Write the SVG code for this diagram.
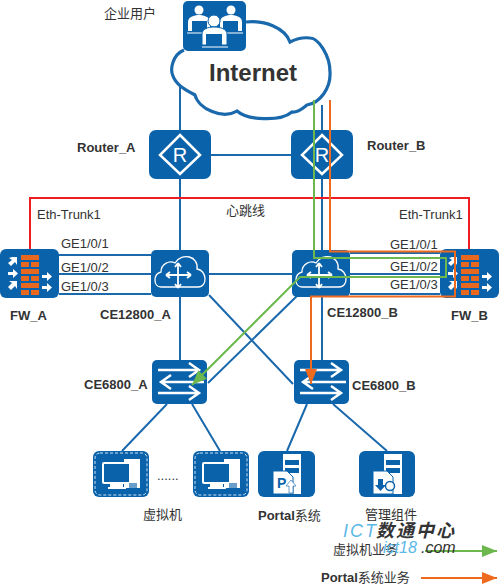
<svg xmlns="http://www.w3.org/2000/svg" width="500" height="587" viewBox="0 0 500 587">
<style>
text{font-family:"Liberation Sans","Noto Sans CJK SC",sans-serif;font-size:13px;fill:#333}
.b{font-weight:bold}
.box{fill:#0a62ab}
.link{fill:none;stroke:#1a69ad;stroke-width:2}
.w{fill:none;stroke:#fff;stroke-width:2.500}
.w2{fill:none;stroke:#fff;stroke-width:1.800}
.wt{fill:none;stroke:#fff;stroke-width:1.300}
.wf{fill:#fff}
.o{fill:#e8681f}
</style>
<defs>
<marker id="ag" markerUnits="userSpaceOnUse" markerWidth="16" markerHeight="12" refX="15" refY="6" orient="auto"><path d="M0,0L15,6L0,12Z" fill="#6cb84e"/></marker>
<marker id="ao" markerUnits="userSpaceOnUse" markerWidth="16" markerHeight="12" refX="15" refY="6" orient="auto"><path d="M0,0L15,6L0,12Z" fill="#ee6a1f"/></marker>
<g id="sw"><rect width="55" height="44" rx="5" class="box"/><path class="w" d="M6,10H47M37,3L47,10L37,17M52,22H9M19,15L9,22L19,29M6,33H47M37,26L47,33L37,40"/></g>
<g id="rt"><rect width="62" height="49" rx="7" class="box"/><path class="w" d="M31,5L51,25L31,44L11,25Z"/><text x="31" y="32" text-anchor="middle" style="font-size:20px;fill:#fff">R</text></g>
<g id="ce"><rect width="58" height="47" rx="5" class="box"/><path class="wt" d="M10,37C2,37 2,24 10,22C10,14 18,10 24,13C31,2 48,6 46,19C56,20 57,37 47,37Z"/><path class="w2" d="M15,25H40M27,13V38M15,25l4,-3M15,25l4,3M40,25l-4,-3M40,25l-4,3M27,13l-3,4M27,13l3,4M27,38l-3,-4M27,38l3,-4"/></g>
<g id="fw"><rect width="59" height="49" rx="6" class="box"/>
<g class="o"><rect x="21" y="6" width="18" height="5"/><rect x="21" y="13" width="8" height="5"/><rect x="31" y="13" width="8" height="5"/><rect x="21" y="20" width="18" height="5"/><rect x="21" y="27" width="8" height="5"/><rect x="31" y="27" width="8" height="5"/><rect x="21" y="34" width="18" height="5"/><rect x="21" y="41" width="8" height="5"/><rect x="31" y="41" width="8" height="5"/></g>
<g class="wf"><path d="M9,9L12,8L17,8V16L15,13L11,17L8,14L12,11Z"/><path d="M8,23H13V20L18,24.500L13,29V26H8Z"/><path d="M8,38L12,34L9,32H17V40L15,37L11,41Z"/><path d="M42,26H47V23L52,27.500L47,32V29H42Z"/><path d="M42,37H47V34L52,38.500L47,43V40H42Z"/></g></g>
<g id="vm"><rect width="56" height="46" rx="6" class="box"/><rect x="2" y="2" width="52" height="42" rx="5" fill="none" stroke="#cfe2f2" stroke-dasharray="3 2"/>
<rect x="31" y="8" width="16" height="29" fill="#fff"/><rect x="9" y="11" width="29" height="22" rx="2" fill="#fff"/><rect x="11" y="13" width="25" height="18" class="box"/><rect x="17" y="33" width="13" height="3" fill="#fff"/><rect x="15" y="36" width="18" height="2" fill="#fff"/><rect x="36" y="32" width="8" height="5" fill="#6a9fcc"/></g>
</defs>

<g id="connectors">
<path class="link" d="M180,85V360M322,105V360M211,155H291M59,255H151M59,274H151M59,294H151M209,274H292M350,253H440M350,274H440M350,294H440M209,295L293,384M300,293L208,383M167,404L122,451M192,404L220,451M307,404L287,451M333,404L387,451"/>
<path d="M30,249V198H469V249" fill="none" stroke="#f01c24" stroke-width="2"/>
</g>

<g id="node-internet"><path d="M184,50C172,55 170,70 173,76C176,85 186,90 195,95C198,108 222,120 237,111C247,120 280,122 292,112C298,113 303,108 307,105C320,103 331,88 330,72C330,55 318,38 310,38C303,37 296,39 290,42C285,28 265,20 246,22" fill="#fff" stroke="#1a69ad" stroke-width="3.200"/><text x="209" y="81" class="b" style="font-size:24px">Internet</text></g>
<g id="node-users"><rect x="183" y="1" width="63" height="50" rx="5" class="box"/>
<g class="wf"><circle cx="199" cy="10" r="4.500"/><path d="M188,31V22C188,17 194,15 199,15C204,15 210,17 210,22V31Z"/><circle cx="231" cy="10" r="4.500"/><path d="M220,31V22C220,17 226,15 231,15C236,15 242,17 242,22V31Z"/></g>
<path d="M187,33H211M219,33H243" stroke="#fff"/>
<rect x="192" y="21" width="15" height="10" class="box"/><rect x="223" y="21" width="15" height="10" class="box"/>
<circle cx="214" cy="21" r="6" fill="#fff" stroke="#0a62ab"/><path d="M202,45V34C202,29 208,27 214,27C220,27 227,29 227,34V45Z" fill="#fff" stroke="#0a62ab"/><rect x="206" y="34" width="16" height="11" fill="#0a62ab"/><path d="M202,47H228" stroke="#fff"/></g>

<use id="node-router-a" href="#rt" x="149" y="130"/>
<use id="node-router-b" href="#rt" x="291" y="130"/>
<use id="node-fw-a" href="#fw" x="0" y="249"/>
<use id="node-ce12800-a" href="#ce" x="151" y="250"/>
<use id="node-ce12800-b" href="#ce" x="292" y="250"/>
<use id="node-fw-b" href="#fw" x="440" y="249"/>
<use id="node-ce6800-a" href="#sw" x="152" y="360"/>
<use id="node-ce6800-b" href="#sw" x="294" y="360"/>
<use id="node-vm1" href="#vm" x="93" y="451"/>
<use id="node-vm2" href="#vm" x="193" y="451"/>

<g id="node-portal"><rect x="258" y="451" width="57" height="46" rx="6" class="box"/><rect x="283" y="454" width="18" height="40" fill="#fff"/><rect x="285" y="460" width="14" height="5" class="box"/><rect x="285" y="468" width="14" height="5" class="box"/><path d="M273,471H287L293,477V494H273Z" fill="#fff" stroke="#0a62ab"/><text x="277" y="488" class="b" style="font-size:14px;fill:#0a62ab">P</text><path d="M291,480L296,486H293V493H289V486H286Z" fill="#fff" stroke="#0a62ab" stroke-width=".6"/></g>
<g id="node-mgmt"><rect x="359" y="451" width="56" height="46" rx="6" class="box"/><rect x="384" y="454" width="18" height="40" fill="#fff"/><rect x="386" y="460" width="14" height="5" class="box"/><rect x="386" y="468" width="14" height="5" class="box"/><path d="M373,471H387L393,477V494H373Z" fill="#fff" stroke="#0a62ab"/><path d="M378,479H383V485H386L380.500,491L375,485H378Z" class="box"/><circle cx="390" cy="486" r="4.500" fill="#fff" stroke="#0a62ab" stroke-width="1.500"/></g>

<g id="flows" fill="none">
<path d="M330,100V251.500H455V296.500H311V384" stroke="#ee6a1f" stroke-width="2" marker-end="url(#ao)"/>
<path d="M314,100V258H446V277H300L192,385" stroke="#6cb84e" stroke-width="2" marker-end="url(#ag)"/>
<path d="M425,551H497" stroke="#6cb84e" stroke-width="2" marker-end="url(#ag)"/>
<path d="M421,578H497" stroke="#ee6a1f" stroke-width="2" marker-end="url(#ao)"/>
</g>

<g id="labels">
<text x="104" y="18">企业用户</text>
<text x="77" y="152" class="b">Router_A</text>
<text x="367" y="150" class="b">Router_B</text>
<text x="226" y="215">心跳线</text>
<text x="37" y="219">Eth-Trunk1</text>
<text x="399" y="219">Eth-Trunk1</text>
<text x="61" y="248">GE1/0/1</text>
<text x="61" y="272">GE1/0/2</text>
<text x="61" y="291">GE1/0/3</text>
<text x="390" y="249">GE1/0/1</text>
<text x="390" y="271">GE1/0/2</text>
<text x="390" y="289">GE1/0/3</text>
<text x="10" y="320" class="b">FW_A</text>
<text x="100" y="319" class="b">CE12800_A</text>
<text x="327" y="317" class="b">CE12800_B</text>
<text x="451" y="320" class="b">FW_B</text>
<text x="84" y="389" class="b">CE6800_A</text>
<text x="352" y="390" class="b">CE6800_B</text>
<text x="157" y="480">......</text>
<text x="143" y="519">虚拟机</text>
<text x="258" y="520"><tspan class="b">Portal</tspan>系统</text>
<text x="365" y="519">管理组件</text>
<text x="343" y="537" font-style="italic" style="font-size:18px;fill:#5cb8e8;letter-spacing:2px">ICT</text>
<text x="376" y="537" font-style="italic" class="b" style="font-size:18px;letter-spacing:2px">数通中心</text>
<text x="333" y="554">虚拟机业务</text>
<text x="383" y="553" font-style="italic" style="font-size:16px;fill:#5cb8e8">ict18</text>
<text x="421" y="553" font-style="italic" style="font-size:16px">.com</text>
<text x="321" y="582"><tspan class="b">Portal</tspan>系统业务</text>
</g>
</svg>
